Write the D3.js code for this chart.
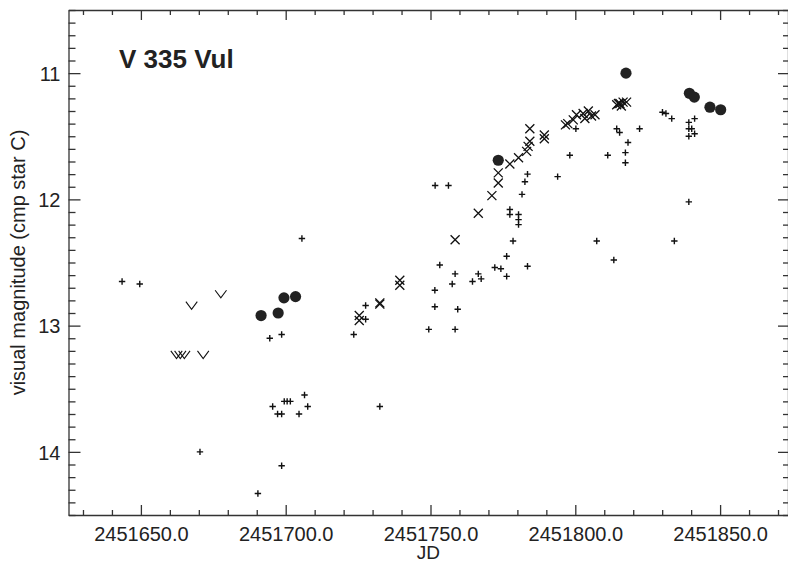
<!DOCTYPE html>
<html><head><meta charset="utf-8">
<script src="https://cdn.jsdelivr.net/npm/d3@7"></script>
<style>body{margin:0;background:#fff}svg{display:block}text{font-family:"Liberation Sans",Arial,sans-serif;fill:#222}</style>
</head><body><svg id="c" width="788" height="563"></svg>
<script>
// ---- data ----
const title = "V 335 Vul";
const xLabel = "JD";
const yLabel = "visual magnitude (cmp star C)";
const xTicks = [2451650, 2451700, 2451750, 2451800, 2451850];
const yTicks = [11, 12, 13, 14];

// visual estimates (+)
const plusJD = [2451643.5,2451649.6,2451670.4,2451690.4,2451694.5,2451698.6,2451698.6,2451695.5,2451697.2,2451698.6,
  2451699.5,2451700.5,2451701.6,2451704.6,2451706.5,2451707.6,2451705.6,2451723.5,2451727.6,2451727.6,
  2451732.5,2451749.4,2451751.5,2451751.5,2451751.6,2451756.2,2451753.2,2451757.5,2451758.5,2451759.4,
  2451758.5,2451764.5,2451766.5,2451767.5,2451772.2,2451774.3,2451776.3,2451776.3,2451778.5,2451777.4,
  2451777.4,2451780.4,2451780.4,2451780.4,2451781.6,2451782.6,2451783.5,2451783.5,2451793.9,2451798.1,
  2451800.2,2451807.4,2451811.2,2451813.3,2451814.3,2451815.3,2451817.3,2451817.3,2451818.2,2451822.2,
  2451830.1,2451831.3,2451833.3,2451834.2,2451839.2,2451841.2,2451839.2,2451840.2,2451841.2,2451839.2,2451839.2];
const plusMag = [12.65,12.67,14.00,14.33,13.10,13.07,14.11,13.64,13.70,13.70,
  13.60,13.60,13.60,13.70,13.55,13.64,12.31,13.07,12.84,12.95,
  13.64,13.03,12.72,12.85,11.89,11.89,12.52,12.67,12.59,12.87,
  13.03,12.65,12.59,12.63,12.54,12.55,12.45,12.61,12.33,12.08,
  12.12,12.12,12.16,12.20,11.96,11.86,11.80,12.53,11.82,11.65,
  11.44,12.33,11.65,12.48,11.44,11.47,11.63,11.71,11.55,11.44,
  11.31,11.32,11.36,12.33,11.39,11.36,11.44,11.44,11.48,11.50,12.02];

// CCD-like estimates (x)
const crossJD = [2451725.4,2451725.4,2451732.5,2451732.5,2451739.4,2451739.4,2451758.5,2451766.5,2451771.2,2451773.4,
  2451773.4,2451777.4,2451780.4,2451783.2,2451783.7,2451784.3,2451784.3,2451789.3,2451789.3,2451796.6,
  2451797.4,2451799.3,2451800.4,2451802.7,2451803.3,2451804.5,2451805.6,2451806.8,2451814.3,2451814.9,
  2451815.4,2451816.5,2451817.7,2451815.9];
const crossMag = [12.92,12.96,12.82,12.83,12.64,12.68,12.32,12.11,11.97,11.87,
  11.79,11.72,11.67,11.62,11.58,11.54,11.44,11.49,11.52,11.41,
  11.40,11.37,11.33,11.32,11.36,11.30,11.34,11.33,11.25,11.24,
  11.24,11.23,11.23,11.26];

// filled circles
const dotJD = [2451691.5,2451697.4,2451699.4,2451703.4,2451773.4,2451817.5,2451839.4,2451841.1,2451846.5,2451850.2];
const dotMag = [12.92,12.90,12.78,12.77,11.69,11.00,11.16,11.19,11.27,11.29];

// fainter-than limits (v)
const limJD = [2451662.3,2451663.6,2451665.0,2451667.5,2451671.5,2451677.6];
const limMag = [13.23,13.23,13.23,12.84,13.23,12.75];

// ---- chart ----
const svg = d3.select("#c");
const L = 68.5, R = 792.5, T = 10, B = 515;
const x = d3.scaleLinear().domain([2451625, 2451875]).range([L, R]);
const y = d3.scaleLinear().domain([10.5, 14.5]).range([T, B]);
const minorX = d3.range(2451630, 2451875, 10).filter(v => v % 50 !== 0);
const minorY = d3.range(105, 146, 1).map(v => v / 10).filter(v => Math.abs(v - Math.round(v)) > 1e-6);
const axCol = "#333";

function style(g) {
  g.selectAll("path.domain").attr("stroke", axCol).attr("stroke-width", 1.3);
  g.selectAll(".tick line").attr("stroke", axCol).attr("stroke-width", 1.3);
  g.selectAll("text").attr("font-size", 20).attr("fill", "#222").attr("font-family", '"Liberation Sans",Arial,sans-serif');
}
// bottom
const gb = svg.append("g").attr("transform", `translate(0,${B})`)
  .call(d3.axisBottom(x).tickValues(xTicks).tickSize(-10).tickSizeOuter(0).tickPadding(12).tickFormat(d3.format(".1f")));
style(gb);
svg.append("g").attr("transform", `translate(0,${B})`)
  .call(d3.axisBottom(x).tickValues(minorX).tickSize(-5).tickFormat("")).call(style)
  .select("path.domain").remove();
// top
svg.append("g").attr("transform", `translate(0,${T})`)
  .call(d3.axisTop(x).tickValues(xTicks).tickSize(-10).tickSizeOuter(0).tickFormat("")).call(style);
svg.append("g").attr("transform", `translate(0,${T})`)
  .call(d3.axisTop(x).tickValues(minorX).tickSize(-5).tickFormat("")).call(style)
  .select("path.domain").remove();
// left
const gl = svg.append("g").attr("transform", `translate(${L},0)`)
  .call(d3.axisLeft(y).tickValues(yTicks).tickSize(-12).tickSizeOuter(0).tickPadding(8).tickFormat(d3.format("d")));
style(gl);
gl.selectAll("text").attr("dy", "0.36em");
svg.append("g").attr("transform", `translate(${L},0)`)
  .call(d3.axisLeft(y).tickValues(minorY).tickSize(-7).tickFormat("")).call(style)
  .select("path.domain").remove();
// right
svg.append("g").attr("transform", `translate(788,0)`)
  .call(d3.axisRight(y).tickValues(yTicks).tickSize(-10).tickSizeOuter(0).tickFormat("")).call(style);
svg.append("g").attr("transform", `translate(788,0)`)
  .call(d3.axisRight(y).tickValues(minorY).tickSize(-5).tickFormat("")).call(style)
  .select("path.domain").remove();

// labels
svg.append("text").attr("x", (L + 788) / 2).attr("y", 559).attr("text-anchor", "middle").attr("font-size", 19).text(xLabel);
svg.append("text").attr("transform", `translate(25,${(T + B) / 2}) rotate(-90)`).attr("text-anchor", "middle")
  .attr("font-size", 20).text(yLabel);
svg.append("text").attr("x", 119).attr("y", 68).attr("font-size", 26).attr("font-weight", "bold").text(title);

// marks
const plot = svg.append("g");
const plusData = plusJD.map((d, i) => [d, plusMag[i]]);
plot.selectAll("path.plus").data(plusData).join("path").attr("class", "plus")
  .attr("d", d => { const px = x(d[0]), py = y(d[1]); return `M${px-3.2},${py}H${px+3.2}M${px},${py-3.2}V${py+3.2}`; })
  .attr("stroke", "#111").attr("stroke-width", 1.4).attr("fill", "none");
const crossData = crossJD.map((d, i) => [d, crossMag[i]]);
plot.selectAll("path.cross").data(crossData).join("path").attr("class", "cross")
  .attr("d", d => { const px = x(d[0]), py = y(d[1]), s = 4.5; return `M${px-s},${py-s}L${px+s},${py+s}M${px-s},${py+s}L${px+s},${py-s}`; })
  .attr("stroke", "#111").attr("stroke-width", 1.3).attr("fill", "none");
const dotData = dotJD.map((d, i) => [d, dotMag[i]]);
plot.selectAll("circle.dot").data(dotData).join("circle").attr("class", "dot")
  .attr("cx", d => x(d[0])).attr("cy", d => y(d[1])).attr("r", 5.6).attr("fill", "#222");
const limData = limJD.map((d, i) => [d, limMag[i]]);
plot.selectAll("path.lim").data(limData).join("path").attr("class", "lim")
  .attr("d", d => { const px = x(d[0]), py = y(d[1]); return `M${px-5.7},${py-3.8}L${px},${py+3.8}L${px+5.7},${py-3.8}`; })
  .attr("stroke", "#111").attr("stroke-width", 1.1).attr("fill", "none");
</script></body></html>
